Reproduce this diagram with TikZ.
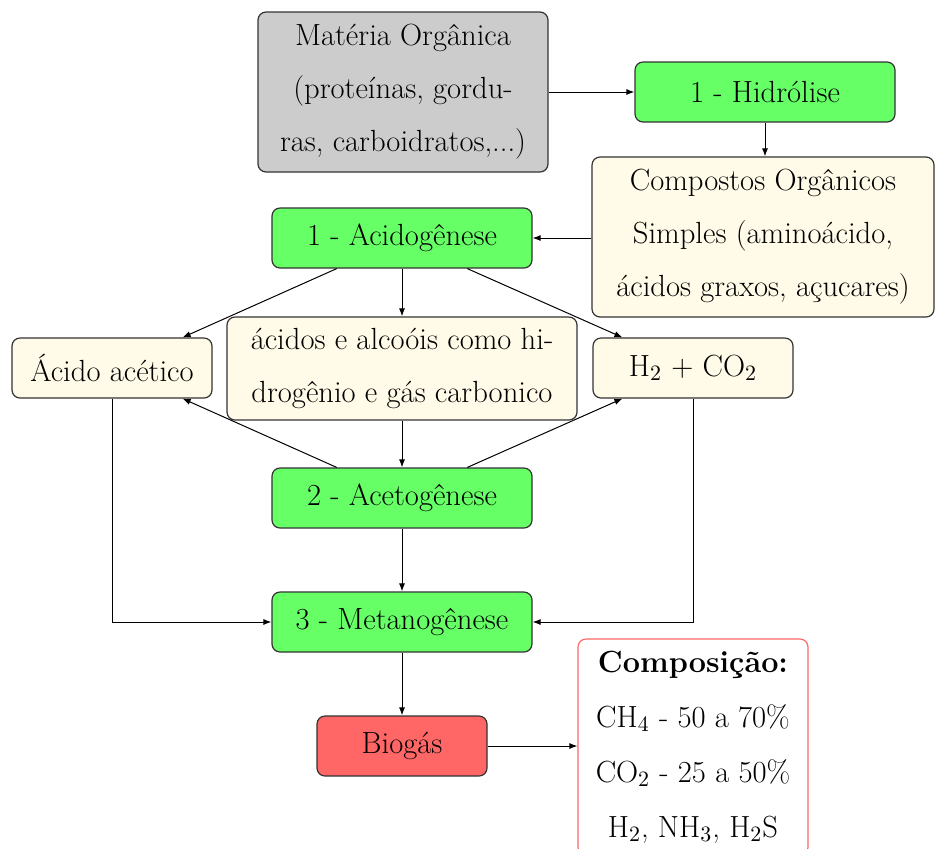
\documentclass[tikz,border=0pt]{standalone}
\usepackage{fontspec}
\usepackage{amsmath}
\usetikzlibrary{calc,arrows.meta}
\definecolor{verde}{HTML}{66FF66}
\definecolor{vermelho}{HTML}{FF6666}
\definecolor{cinza}{HTML}{CCCCCC}
\definecolor{creme}{HTML}{FFFBE8}
\tikzstyle{caixa}=[draw=black!80,rounded corners=4pt,line width=0.6pt,align=center,inner sep=2pt,font=\fontsize{15.3}{26.5}\selectfont]
\tikzstyle{etapa}=[caixa,fill=verde,minimum width=130pt,minimum height=30pt]
\tikzstyle{produto}=[caixa,fill=creme]
\tikzstyle{seta}=[-{Latex[length=4pt,width=3pt]},line width=0.5pt]

\begin{document}
\begin{tikzpicture}[x=0.5pt,y=-0.5pt]
\useasboundingbox (0,0) rectangle (935,848);
% etapas e produtos
\node [caixa,fill=cinza,minimum width=145pt,minimum height=80pt] (materia) at (403,92) {Matéria Orgânica\\(proteínas, gordu-\\ras, carboidratos,...)};
\node [etapa] (hidrolise) at (765,92) {1 - Hidrólise};
\node [produto,minimum width=171pt,minimum height=80pt] (compostos) at (763,237) {Compostos Orgânicos\\Simples (aminoácido,\\ácidos graxos, açucares)};
\node [etapa] (acidogenese) at (402,238) {1 - Acidogênese};
\node [produto,minimum width=100pt,minimum height=30pt] (acetico) at (112,368) {Ácido acético};
\node [produto,minimum width=175pt,minimum height=51.5pt] (alcoois) at (402,368.5) {ácidos e alcoóis como hi-\\drogênio e gás carbonico};
\node [produto,minimum width=100pt,minimum height=30pt] (hco) at (693,368) {H$_2$ + CO$_2$};
\node [etapa] (acetogenese) at (402,498) {2 - Acetogênese};
\node [etapa] (metanogenese) at (402,622) {3 - Metanogênese};
\node [caixa,fill=vermelho,minimum width=85pt,minimum height=30pt] (biogas) at (402,746) {Biogás};
\node [caixa,draw=vermelho,fill=white,minimum width=115pt,minimum height=108pt,font=\fontsize{15.3}{27.5}\selectfont] (composicao) at (693,747) {\textbf{Composição:}\\CH$_4$ - 50 a 70\%\\CO$_2$ - 25 a 50\%\\H$_2$, NH$_3$, H$_2$S};

% setas
\draw [seta] (materia) -- (hidrolise);
\draw [seta] (hidrolise.south) -- (hidrolise.south |- compostos.north);
\draw [seta] (compostos.west |- acidogenese) -- (acidogenese.east);
\draw [seta] ($(acidogenese.south west)!0.25!(acidogenese.south east)$) -- ([xshift=-15pt]acetico.north east);
\draw [seta] (acidogenese) -- (alcoois);
\draw [seta] ($(acidogenese.south west)!0.75!(acidogenese.south east)$) -- ([xshift=15pt]hco.north west);
\draw [seta] ($(acetogenese.north west)!0.25!(acetogenese.north east)$) -- ([xshift=-15pt]acetico.south east);
\draw [seta] (alcoois) -- (acetogenese);
\draw [seta] ($(acetogenese.north west)!0.75!(acetogenese.north east)$) -- ([xshift=15pt]hco.south west);
\draw [seta] (acetogenese) -- (metanogenese);
\draw [seta] (acetico.south) |- (metanogenese.west);
\draw [seta] (hco.south) |- (metanogenese.east);
\draw [seta] (metanogenese) -- (biogas);
\draw [seta] (biogas.east) -- (biogas.east -| composicao.west);
\end{tikzpicture}
\end{document}
